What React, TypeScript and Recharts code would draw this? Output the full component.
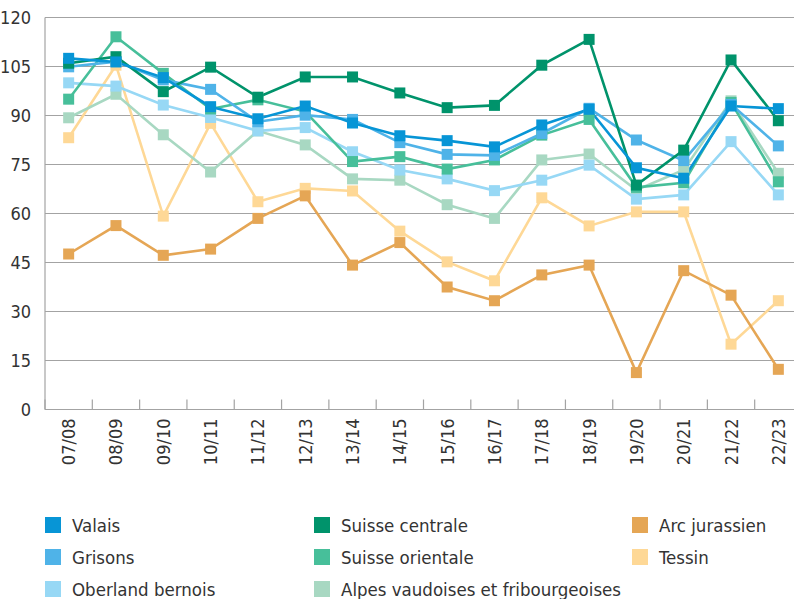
import { LineChart, Line, XAxis, YAxis, CartesianGrid } from "recharts";

const CATEGORIES = ["07/08", "08/09", "09/10", "10/11", "11/12", "12/13", "13/14", "14/15", "15/16", "16/17", "17/18", "18/19", "19/20", "20/21", "21/22", "22/23"];
const Y_TICKS = [0, 15, 30, 45, 60, 75, 90, 105, 120];

const VALAIS = [107.5, 106.4, 101.6, 92.7, 89.0, 92.9, 87.7, 83.8, 82.3, 80.4, 87.1, 91.9, 74.0, 70.8, 92.9, 92.1];
const GRISONS = [104.9, 106.5, 100.9, 98.0, 88.1, 90.1, 88.8, 81.7, 78.1, 77.8, 84.5, 92.2, 82.5, 76.2, 93.4, 80.7];
const OBERLAND = [100.0, 99.0, 93.2, 89.4, 85.3, 86.3, 78.9, 73.3, 70.6, 67.0, 70.2, 74.8, 64.4, 65.7, 82.0, 65.7];
const SUISSE_CENTRALE = [106.0, 108.0, 97.3, 104.8, 95.6, 101.8, 101.8, 96.9, 92.4, 93.1, 105.4, 113.3, 68.7, 79.4, 107.0, 88.4];
const SUISSE_ORIENTALE = [95.0, 114.1, 102.9, 92.0, 94.8, 91.2, 75.9, 77.4, 73.6, 76.4, 84.0, 88.8, 68.0, 69.4, 94.0, 69.7];
const ALPES = [89.3, 96.5, 84.1, 72.7, 85.3, 81.0, 70.6, 70.2, 62.7, 58.5, 76.4, 78.2, 67.2, 73.3, 94.5, 72.3];
const ARC = [47.6, 56.3, 47.2, 49.1, 58.5, 65.4, 44.2, 51.1, 37.5, 33.3, 41.2, 44.2, 11.3, 42.5, 35.0, 12.3];
const TESSIN = [83.2, 105.4, 59.2, 87.6, 63.6, 67.7, 66.9, 54.6, 45.2, 39.4, 64.8, 56.2, 60.5, 60.5, 20.0, 33.3];

const SERIES = [
  { key: "tessin", name: "Tessin", color: "#fed896", values: TESSIN },
  { key: "arc", name: "Arc jurassien", color: "#e5a655", values: ARC },
  { key: "alpes", name: "Alpes vaudoises et fribourgeoises", color: "#a8d8c2", values: ALPES },
  { key: "oberland", name: "Oberland bernois", color: "#97d8f5", values: OBERLAND },
  { key: "orientale", name: "Suisse orientale", color: "#47bf9a", values: SUISSE_ORIENTALE },
  { key: "grisons", name: "Grisons", color: "#4fb3e8", values: GRISONS },
  { key: "centrale", name: "Suisse centrale", color: "#00936b", values: SUISSE_CENTRALE },
  { key: "valais", name: "Valais", color: "#0795d6", values: VALAIS },
];

const LEGEND_COLUMNS = [
  ["valais", "grisons", "oberland"],
  ["centrale", "orientale", "alpes"],
  ["arc", "tessin"],
];

const FONT = "'DejaVu Sans Condensed', 'DejaVu Sans', sans-serif";
const TEXT = "#333333";
const GRID = "#a3a3a3";

const data = CATEGORIES.map((cat, i) => {
  const row: Record<string, string | number> = { cat, pos: i + 0.5 };
  for (const s of SERIES) row[s.key] = s.values[i];
  return row;
});

// integers -> tick marks between seasons, halves -> season labels
const X_TICKS: number[] = [];
for (let i = 0; i <= 32; i++) X_TICKS.push(i / 2);

function XTick(props: any) {
  const { x, y, payload } = props;
  const v = payload.value as number;
  if (Number.isInteger(v)) {
    return <line x1={x} x2={x} y1={y - 10} y2={y} stroke={GRID} strokeWidth={1.2} />;
  }
  const label = CATEGORIES[Math.floor(v)];
  const ty = y + 9;
  return (
    <text
      x={x}
      y={ty}
      transform={`rotate(-90, ${x}, ${ty})`}
      textAnchor="end"
      dy="0.36em"
      fill={TEXT}
      fontSize={18}
      fontFamily={FONT}
    >
      {label}
    </text>
  );
}

const squareDot = (color: string) => (props: any) => {
  const { cx, cy, index } = props;
  return <rect key={index} x={cx - 5.5} y={cy - 5.5} width={11} height={11} fill={color} />;
};

export default function App() {
  const byKey: Record<string, (typeof SERIES)[number]> = {};
  for (const s of SERIES) byKey[s.key] = s;

  return (
    <div style={{ position: "absolute", left: 0, top: 0, width: 794, height: 599, overflow: "hidden", background: "#fff" }}>
      <LineChart width={810} height={480} data={data} margin={{ top: 17.5, right: 8, bottom: 0, left: 0 }}>
        <CartesianGrid vertical={false} stroke={GRID} strokeWidth={1.2} />
        <XAxis
          dataKey="pos"
          type="number"
          domain={[0, 16]}
          ticks={X_TICKS}
          interval={0}
          height={70.5}
          tickSize={0}
          tickMargin={0}
          tickLine={false}
          axisLine={{ stroke: GRID, strokeWidth: 1.2 }}
          tick={<XTick />}
        />
        <YAxis
          domain={[0, 120]}
          ticks={Y_TICKS}
          width={45}
          tickLine={false}
          tickMargin={8}
          axisLine={{ stroke: GRID, strokeWidth: 1.2 }}
          tick={{ fill: TEXT, fontSize: 18, fontFamily: FONT }}
        />
        {SERIES.map((s) => (
          <Line
            key={s.key}
            dataKey={s.key}
            name={s.name}
            stroke={s.color}
            strokeWidth={2.6}
            dot={squareDot(s.color)}
            activeDot={false}
            isAnimationActive={false}
          />
        ))}
      </LineChart>
      {LEGEND_COLUMNS.map((col, ci) =>
        col.map((key, ri) => {
          const s = byKey[key];
          const left = [45, 314, 632][ci];
          return (
            <div
              key={key}
              style={{
                position: "absolute",
                left,
                top: 525 + ri * 32 - 11,
                height: 22,
                display: "flex",
                alignItems: "center",
                fontFamily: FONT,
                fontSize: 18.5,
                color: TEXT,
                whiteSpace: "nowrap",
              }}
            >
              <span style={{ width: 16, height: 16, background: s.color, marginRight: 11, display: "inline-block", flex: "none" }} />
              {s.name}
            </div>
          );
        })
      )}
    </div>
  );
}
